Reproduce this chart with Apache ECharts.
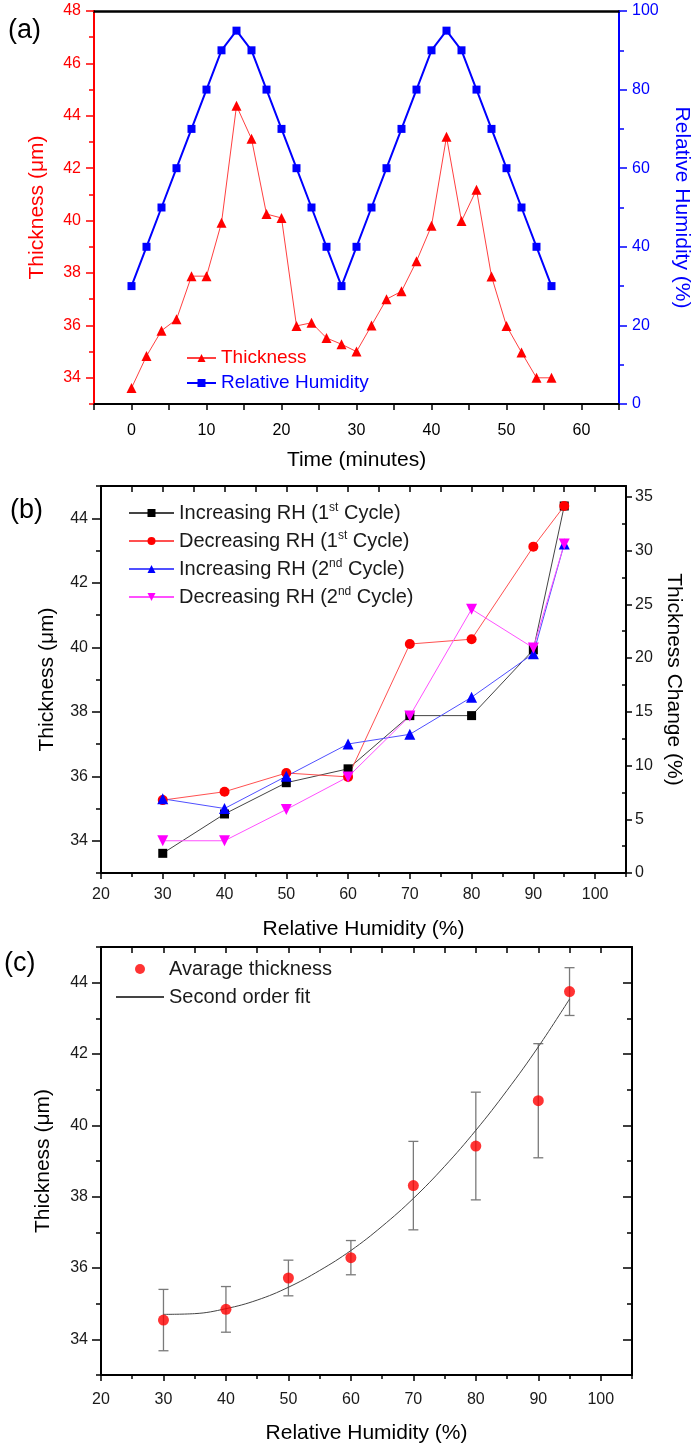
<!DOCTYPE html>
<html>
<head>
<meta charset="utf-8">
<script src="https://cdn.jsdelivr.net/npm/echarts@6/dist/echarts.min.js"></script>
<style>
  html, body { margin: 0; padding: 0; background: #fff; }
  #main { width: 700px; height: 1445px; }
</style>
</head>
<body>
<div id="main"></div>
<script>
// (a) thickness and RH against time
const timeMin     = [0, 2, 4, 6, 8, 10, 12, 14, 16, 18, 20, 22, 24, 26, 28, 30, 32, 34, 36, 38, 40, 42, 44, 46, 48, 50, 52, 54, 56]
const thicknessA  = [33.61, 34.83, 35.80, 36.23, 37.88, 37.88, 39.92, 44.38, 43.12, 40.25, 40.10, 35.98, 36.10, 35.52, 35.28, 35.00, 36.00, 37.00, 37.30, 38.45, 39.80, 43.20, 39.98, 41.18, 37.87, 35.98, 34.97, 34.00, 34.00]
const humidityA   = [30, 40, 50, 60, 70, 80, 90, 95, 90, 80, 70, 60, 50, 40, 30, 40, 50, 60, 70, 80, 90, 95, 90, 80, 70, 60, 50, 40, 30]

// (b) thickness against RH, per half cycle
const rhLevels    = [30, 40, 50, 60, 70, 80, 90, 95]
const incCycle1   = [33.61, 34.83, 35.80, 36.23, 37.88, 37.88, 39.92, 44.38]
const decCycle1   = [35.26, 35.52, 36.10, 35.98, 40.10, 40.25, 43.12, 44.38]
const incCycle2   = [35.30, 35.00, 36.00, 37.00, 37.30, 38.45, 39.80, 43.20]
const decCycle2   = [34.00, 34.00, 34.97, 35.98, 37.87, 41.18, 39.98, 43.20]

// (c) average thickness, spread and second order fit
const avgThick    = [34.54, 34.84, 35.72, 36.29, 38.31, 39.42, 40.69, 43.75]
const errSpread   = [0.86, 0.64, 0.50, 0.48, 1.24, 1.51, 1.60, 0.67]
const fitRh       = [30, 35, 40, 45, 50, 55, 60, 65, 70, 75, 80, 85, 90, 95]
const fitThick    = [34.70, 34.72, 34.86, 35.10, 35.46, 35.93, 36.49, 37.17, 37.95, 38.85, 39.86, 40.98, 42.20, 43.54]

// tick values
const aTimeLabels  = [0, 10, 20, 30, 40, 50, 60]
const aTimeTicks   = [-5, 0, 5, 10, 15, 20, 25, 30, 35, 40, 45, 50, 55, 60, 65]
const aThickLabels = [34, 36, 38, 40, 42, 44, 46, 48]
const aThickMinor  = [33, 35, 37, 39, 41, 43, 45, 47]
const aRhLabels    = [0, 20, 40, 60, 80, 100]
const aRhMinor     = [10, 30, 50, 70, 90]
const rhLabels     = [20, 30, 40, 50, 60, 70, 80, 90, 100]
const rhMinor      = [25, 35, 45, 55, 65, 75, 85, 95, 105]
const rhAllTicks   = [20, 25, 30, 35, 40, 45, 50, 55, 60, 65, 70, 75, 80, 85, 90, 95, 100, 105]
const thickLabels  = [34, 36, 38, 40, 42, 44]
const thickMinor   = [33, 35, 37, 39, 41, 43, 45]
const changeLabels = [0, 5, 10, 15, 20, 25, 30, 35]
const changeMinor  = [2.5, 7.5, 12.5, 17.5, 22.5, 27.5, 32.5]

const FONT = 'Liberation Sans, Arial, sans-serif'

// one value axis, ticks and labels placed on given values
function valAxis(grid, pos, min, max, opt = {}) {
    const color = opt.color || '#000'
    const ax = {
        type: 'value', gridIndex: grid, position: pos, min: min, max: max,
        axisLine: {show: opt.line !== false, onZero: false, lineStyle: {color: color, width: opt.lineWidth || 2}},
        axisTick: opt.ticks
            ? {show: true, customValues: opt.ticks, length: opt.tickLen || 6, inside: !!opt.inside, lineStyle: {color: color, width: 1.5}}
            : {show: false},
        axisLabel: opt.labels
            ? {show: true, customValues: opt.labels, margin: opt.margin || 12, color: opt.labelColor || color, fontSize: 16, fontFamily: FONT}
            : {show: false},
        splitLine: {show: false},
    }
    if (opt.name) {
        ax.name = opt.name
        ax.nameLocation = 'middle'
        ax.nameGap = opt.nameGap
        if (opt.nameRotate !== undefined) ax.nameRotate = opt.nameRotate
        ax.nameTextStyle = {color: color, fontSize: 21, fontFamily: FONT}
    }
    return ax
}

const RED = '#ff0000', BLUE = '#0000ff', MAG = '#ff00ff', INK = '#1a1a1a'

const xAxes = [
    // (a)
    valAxis(0, 'bottom', -5, 65, {ticks: aTimeTicks, labels: aTimeLabels, margin: 19, name: 'Time (minutes)', nameGap: 46}),
    valAxis(0, 'top', -5, 65, {lineWidth: 2.5}),
    // (b)
    valAxis(1, 'bottom', 20, 105, {ticks: rhLabels, tickLen: 6, labels: rhLabels, labelColor: INK, margin: 14, name: 'Relative Humidity (%)', nameGap: 46}),
    valAxis(1, 'bottom', 20, 105, {ticks: rhMinor, tickLen: 4, line: false}),
    valAxis(1, 'top', 20, 105, {ticks: rhAllTicks, tickLen: 6, inside: true}),
    // (c)
    valAxis(2, 'bottom', 20, 105, {ticks: rhLabels, tickLen: 6, labels: rhLabels, labelColor: INK, margin: 17, name: 'Relative Humidity (%)', nameGap: 48}),
    valAxis(2, 'bottom', 20, 105, {ticks: rhMinor, tickLen: 4, line: false}),
    valAxis(2, 'top', 20, 105, {ticks: rhAllTicks, tickLen: 6, inside: true}),
]

const yAxes = [
    // (a) 0..3
    valAxis(0, 'left', 33, 48, {color: RED, ticks: aThickLabels, tickLen: 8, labels: aThickLabels, margin: 13, name: 'Thickness (\u03bcm)', nameGap: 46}),
    valAxis(0, 'left', 33, 48, {color: RED, ticks: aThickMinor, tickLen: 5, line: false}),
    valAxis(0, 'right', 0, 100, {color: BLUE, ticks: aRhLabels, tickLen: 8, labels: aRhLabels, margin: 13, name: 'Relative Humidity (%)', nameGap: 52, nameRotate: -90}),
    valAxis(0, 'right', 0, 100, {color: BLUE, ticks: aRhMinor, tickLen: 5, line: false}),
    // (b) 4..7
    valAxis(1, 'left', 33, 45, {ticks: thickLabels, tickLen: 9, labels: thickLabels, labelColor: INK, margin: 13, name: 'Thickness (\u03bcm)', nameGap: 43}),
    valAxis(1, 'left', 33, 45, {ticks: thickMinor, tickLen: 5, line: false}),
    valAxis(1, 'right', 0, 36, {ticks: changeLabels, tickLen: 6, labels: changeLabels, labelColor: INK, margin: 9, name: 'Thickness Change (%)', nameGap: 35, nameRotate: -90}),
    valAxis(1, 'right', 0, 36, {ticks: changeMinor, tickLen: 4, inside: true, line: false}),
    // (c) 8..11
    valAxis(2, 'left', 33, 45, {ticks: thickLabels, tickLen: 9, labels: thickLabels, labelColor: INK, margin: 13, name: 'Thickness (\u03bcm)', nameGap: 47}),
    valAxis(2, 'left', 33, 45, {ticks: thickMinor, tickLen: 5, line: false}),
    valAxis(2, 'right', 33, 45, {ticks: thickLabels, tickLen: 9, inside: true}),
    valAxis(2, 'right', 33, 45, {ticks: thickMinor, tickLen: 5, inside: true, line: false}),
]

const zip = (xs, ys) => xs.map((x, i) => [x, ys[i]])

function cycleLine(name, values, color, lineColor, symbol, size, rotate) {
    return {
        name: name, type: 'line', xAxisIndex: 2, yAxisIndex: 4,
        data: zip(rhLevels, values),
        symbol: symbol, symbolSize: size, symbolRotate: rotate || 0,
        itemStyle: {color: color},
        lineStyle: {color: lineColor, width: 1},
        z: 3,
    }
}

const series = [
    // (a)
    {
        name: 'Thickness', type: 'line', xAxisIndex: 0, yAxisIndex: 0,
        data: zip(timeMin, thicknessA),
        symbol: 'triangle', symbolSize: 10,
        itemStyle: {color: RED}, lineStyle: {color: '#ff4040', width: 1}, z: 4,
    },
    {
        name: 'Relative Humidity', type: 'line', xAxisIndex: 0, yAxisIndex: 2,
        data: zip(timeMin, humidityA),
        symbol: 'rect', symbolSize: 8,
        itemStyle: {color: BLUE}, lineStyle: {color: BLUE, width: 2}, z: 3,
    },
    // (b)
    cycleLine('Increasing RH (1st Cycle)', incCycle1, '#000', '#444', 'rect', 9),
    cycleLine('Decreasing RH (1st Cycle)', decCycle1, RED, '#ff5050', 'circle', 10),
    cycleLine('Increasing RH (2nd Cycle)', incCycle2, BLUE, '#5050ff', 'triangle', 11),
    cycleLine('Decreasing RH (2nd Cycle)', decCycle2, MAG, '#ff50ff', 'triangle', 11, 180),
    // (c)
    {
        name: 'spread', type: 'custom', xAxisIndex: 5, yAxisIndex: 8,
        data: rhLevels.map((x, i) => [x, avgThick[i] - errSpread[i], avgThick[i] + errSpread[i]]),
        renderItem: function (params, api) {
            const hi = api.coord([api.value(0), api.value(2)])
            const lo = api.coord([api.value(0), api.value(1)])
            const st = {stroke: '#7a7a7a', lineWidth: 1.3}
            return {
                type: 'group',
                children: [
                    {type: 'line', shape: {x1: hi[0], y1: hi[1], x2: lo[0], y2: lo[1]}, style: st},
                    {type: 'line', shape: {x1: hi[0] - 5, y1: hi[1], x2: hi[0] + 5, y2: hi[1]}, style: st},
                    {type: 'line', shape: {x1: lo[0] - 5, y1: lo[1], x2: lo[0] + 5, y2: lo[1]}, style: st},
                ]
            }
        },
        z: 2,
    },
    {
        name: 'Second order fit', type: 'line', xAxisIndex: 5, yAxisIndex: 8,
        data: zip(fitRh, fitThick), smooth: 0.4,
        showSymbol: false, symbol: 'none',
        itemStyle: {color: '#444'}, lineStyle: {color: '#444', width: 1}, z: 3,
    },
    {
        name: 'Avarage thickness', type: 'scatter', xAxisIndex: 5, yAxisIndex: 8,
        data: zip(rhLevels, avgThick), symbol: 'circle', symbolSize: 11,
        itemStyle: {color: RED}, z: 4,
    },
]

const legendText = {fontSize: 20, fontFamily: FONT, lineHeight: 22, color: INK}

const option = {
    animation: false,
    backgroundColor: '#fff',
    grid: [
        {left: 94, top: 11, width: 532, height: 393},
        {left: 101, top: 486, width: 525, height: 387},
        {left: 101, top: 947, width: 531, height: 428},
    ],
    xAxis: xAxes,
    yAxis: yAxes,
    legend: [
        {
            orient: 'vertical', left: 186, top: 348, padding: 0,
            itemWidth: 29, itemHeight: 10, itemGap: 5,
            textStyle: {fontSize: 19, fontFamily: FONT, lineHeight: 20},
            data: [
                {name: 'Thickness', textStyle: {color: RED}},
                {name: 'Relative Humidity', textStyle: {color: BLUE}},
            ],
        },
        {
            orient: 'vertical', left: 128, top: 502, padding: 0,
            itemWidth: 45, itemHeight: 10, itemGap: 6,
            textStyle: Object.assign({}, legendText, {
                rich: {sup: {fontSize: 12, lineHeight: 12, verticalAlign: 'top', fontFamily: FONT, color: INK}}
            }),
            formatter: name => name.replace(/(\d)(st|nd)/, '$1{sup|$2}'),
            data: ['Increasing RH (1st Cycle)', 'Decreasing RH (1st Cycle)', 'Increasing RH (2nd Cycle)', 'Decreasing RH (2nd Cycle)'],
        },
        {
            orient: 'vertical', left: 115, top: 958, padding: 0,
            itemWidth: 48, itemHeight: 10, itemGap: 6,
            textStyle: legendText,
            data: [
                'Avarage thickness',
                {name: 'Second order fit', itemStyle: {opacity: 0}},
            ],
        },
    ],
    graphic: [
        {type: 'text', left: 8, top: 17, style: {text: '(a)', fontSize: 27, fontFamily: FONT, fill: '#000'}},
        {type: 'text', left: 10, top: 497, style: {text: '(b)', fontSize: 27, fontFamily: FONT, fill: '#000'}},
        {type: 'text', left: 4, top: 950, style: {text: '(c)', fontSize: 27, fontFamily: FONT, fill: '#000'}},
    ],
    series: series,
}

const chart = echarts.init(document.getElementById('main'), null, {renderer: 'canvas'})
chart.setOption(option)
</script>
</body>
</html>
